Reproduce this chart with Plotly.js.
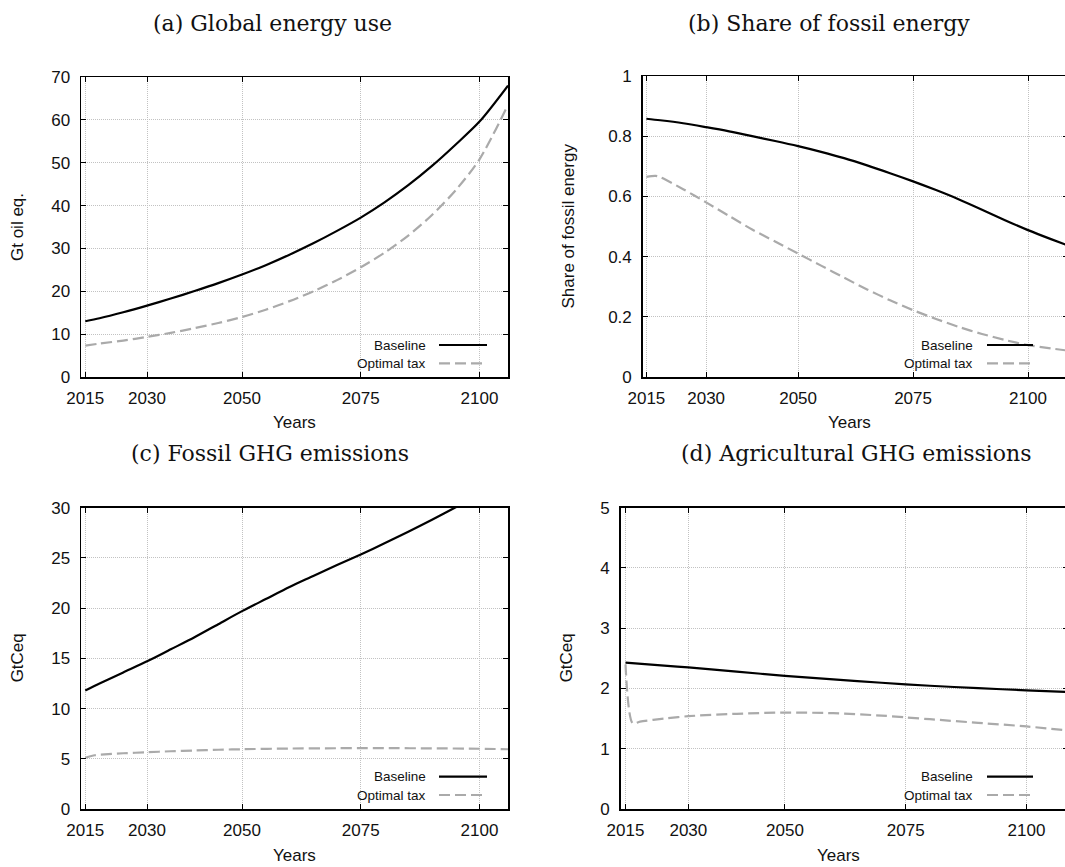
<!DOCTYPE html>
<html>
<head>
<meta charset="utf-8">
<script src="https://cdn.plot.ly/plotly-3.0.1.min.js"></script>
<style>
html, body { margin: 0; padding: 0; overflow: hidden; background: #fff; }
#chart { width: 1075px; height: 867px; }
</style>
</head>
<body>
<div id="chart"></div>
<script>
// ---------- data ----------
const panelTitles = ['(a) Global energy use', '(b) Share of fossil energy', '(c) Fossil GHG emissions', '(d) Agricultural GHG emissions'];
const yTitles = ['Gt oil eq.', 'Share of fossil energy', 'GtCeq', 'GtCeq'];
const xTitle = 'Years';
const seriesNames = ['Baseline', 'Optimal tax'];

const xTickPos = [2017, 2030, 2050, 2075, 2100];
const xTickLabels = ['2015', '2030', '2050', '2075', '2100'];

const yTicksA = [0, 10, 20, 30, 40, 50, 60, 70];
const yTicksB = [0, 0.2, 0.4, 0.6, 0.8, 1];
const yTickLabelsB = ['0', '0.2', '0.4', '0.6', '0.8', '1'];
const yTicksC = [0, 5, 10, 15, 20, 25, 30];
const yTicksD = [0, 1, 2, 3, 4, 5];

// (a) Global energy use
const yearsA = [2017, 2020, 2025, 2030, 2035, 2040, 2045, 2050, 2055, 2060, 2065, 2070, 2075, 2080, 2085, 2090, 2095, 2100, 2106];
const baseA  = [13.0, 13.7, 15.1, 16.65, 18.3, 20.05, 21.9, 23.9, 26.1, 28.55, 31.2, 34.1, 37.2, 40.75, 44.75, 49.25, 54.25, 59.6, 68.0];
const taxA   = [7.3, 7.8, 8.5, 9.35, 10.3, 11.4, 12.6, 14.0, 15.7, 17.7, 20.0, 22.6, 25.6, 29.0, 33.0, 37.8, 43.6, 50.8, 63.5];

// (b) Share of fossil energy
const yearsB = [2017, 2020, 2025, 2030, 2035, 2040, 2045, 2050, 2055, 2060, 2065, 2070, 2075, 2080, 2085, 2090, 2095, 2100, 2105, 2109];
const baseB  = [0.858, 0.853, 0.843, 0.830, 0.816, 0.800, 0.784, 0.767, 0.748, 0.727, 0.703, 0.677, 0.650, 0.621, 0.590, 0.556, 0.521, 0.488, 0.458, 0.435];
const yearsB2 = [2017, 2019, 2020, 2025, 2030, 2035, 2040, 2045, 2050, 2055, 2060, 2065, 2070, 2075, 2080, 2085, 2090, 2095, 2100, 2105, 2109];
const taxB   = [0.665, 0.668, 0.664, 0.624, 0.580, 0.535, 0.490, 0.450, 0.410, 0.370, 0.330, 0.291, 0.255, 0.222, 0.193, 0.166, 0.143, 0.123, 0.106, 0.095, 0.087];

// (c) Fossil GHG emissions
const yearsC = [2017, 2020, 2025, 2030, 2035, 2040, 2045, 2050, 2055, 2060, 2065, 2070, 2075, 2080, 2085, 2090, 2095, 2100, 2106];
const baseC  = [11.8, 12.5, 13.6, 14.7, 15.9, 17.1, 18.4, 19.7, 20.9, 22.1, 23.2, 24.3, 25.35, 26.45, 27.6, 28.8, 30.05, 31.35, 33.0];
const yearsC2 = [2017, 2019, 2020, 2025, 2030, 2035, 2040, 2045, 2050, 2060, 2070, 2075, 2080, 2090, 2100, 2106];
const taxC   = [5.1, 5.35, 5.4, 5.55, 5.65, 5.75, 5.83, 5.9, 5.95, 6.02, 6.05, 6.06, 6.06, 6.04, 6.0, 5.95];

// (d) Agricultural GHG emissions
const yearsD = [2017, 2025, 2030, 2040, 2050, 2060, 2070, 2080, 2090, 2100, 2109];
const baseD  = [2.43, 2.38, 2.35, 2.28, 2.21, 2.15, 2.095, 2.045, 2.005, 1.97, 1.94];
const yearsD2 = [2017, 2018.5, 2020, 2025, 2030, 2040, 2050, 2060, 2070, 2075, 2080, 2090, 2100, 2109];
const taxD   = [2.40, 1.42, 1.45, 1.50, 1.54, 1.58, 1.60, 1.59, 1.55, 1.52, 1.49, 1.43, 1.37, 1.30];

// ---------- layout helpers ----------
const W = 1075, H = 867;
const fx = p => p / W;
const fy = p => 1 - p / H;

const BLACK = '#000000';
const GRAY = '#aaaaaa';
const DASH = '11px,5px';
const SANS = 'Liberation Sans, Arial, sans-serif';
const SERIF = 'DejaVu Serif, serif';

const panels = [
  { xs: 'x',  ys: 'y',  xd: [81, 508],    yd: [77, 377],    xr: [2016.1, 2106.0], yr: [0, 70], yt: yTicksA, ytl: null,
    data: [[yearsA, baseA], [yearsA, taxA]], title: [272, 23], ytitle: 18, xtitle: 294,
    leg: { textR: 428, l0: 439, l1: 487, r1: 345, r2: 363.3 } },
  { xs: 'x2', ys: 'y2', xd: [642.7, 1068], yd: [76, 377],    xr: [2016.2, 2108.7], yr: [0, 1],  yt: yTicksB, ytl: yTickLabelsB,
    data: [[yearsB, baseB], [yearsB2, taxB]], title: [829, 23], ytitle: 568, xtitle: 849,
    leg: { textR: 975, l0: 987, l1: 1033, r1: 345, r2: 363.3 } },
  { xs: 'x3', ys: 'y3', xd: [81, 508],    yd: [507.7, 809], xr: [2016.1, 2106.0], yr: [0, 30], yt: yTicksC, ytl: null,
    data: [[yearsC, baseC], [yearsC2, taxC]], title: [270, 453], ytitle: 17, xtitle: 294,
    leg: { textR: 428, l0: 439, l1: 487, r1: 776.7, r2: 795 } },
  { xs: 'x4', ys: 'y4', xd: [620.7, 1068], yd: [507.7, 809], xr: [2016.0, 2108.6], yr: [0, 5],  yt: yTicksD, ytl: null,
    data: [[yearsD, baseD], [yearsD2, taxD]], title: [856, 453], ytitle: 566, xtitle: 838.5,
    leg: { textR: 975, l0: 987, l1: 1033, r1: 776.7, r2: 795 } }
];

const traces = [];
const layout = {
  width: W, height: H,
  margin: { l: 0, r: 0, t: 0, b: 0 },
  paper_bgcolor: '#ffffff', plot_bgcolor: '#ffffff',
  showlegend: false,
  annotations: [], shapes: []
};

panels.forEach((p, i) => {
  const n = i === 0 ? '' : String(i + 1);
  p.data.forEach((d, k) => {
    traces.push({
      x: d[0], y: d[1], type: 'scatter', mode: 'lines', name: seriesNames[k],
      xaxis: p.xs, yaxis: p.ys,
      line: { color: k === 0 ? BLACK : GRAY, width: 2.2, dash: k === 0 ? 'solid' : DASH, shape: 'spline', smoothing: 0.8 },
      hoverinfo: 'skip'
    });
  });
  const axCommon = {
    showline: true, linecolor: BLACK, linewidth: 1.5, mirror: 'ticks',
    ticks: 'inside', ticklen: 5, tickwidth: 1, tickcolor: BLACK,
    showgrid: true, gridcolor: '#c2c2c2', gridwidth: 1, griddash: '1px,1px',
    zeroline: false, fixedrange: true,
    tickfont: { family: SANS, size: 17, color: '#111' }
  };
  layout['xaxis' + n] = Object.assign({}, axCommon, {
    domain: [fx(p.xd[0]), fx(p.xd[1])], anchor: p.ys, range: p.xr,
    tickmode: 'array', tickvals: xTickPos, ticktext: xTickLabels, ticklabelstandoff: 5
  });
  layout['yaxis' + n] = Object.assign({}, axCommon, {
    domain: [fy(p.yd[1]), fy(p.yd[0])], anchor: p.xs, range: p.yr,
    tickmode: 'array', tickvals: p.yt, ticktext: p.ytl || p.yt.map(String), ticklabelstandoff: 6
  });
  layout.annotations.push({ xref: 'paper', yref: 'paper', x: fx(p.title[0]), y: fy(p.title[1]),
    xanchor: 'center', yanchor: 'middle', showarrow: false, text: panelTitles[i],
    font: { family: SERIF, size: 22, color: '#111' } });
  layout.annotations.push({ xref: 'paper', yref: 'paper', x: fx(p.ytitle), y: fy((p.yd[0] + p.yd[1]) / 2),
    xanchor: 'center', yanchor: 'middle', showarrow: false, textangle: -90, text: yTitles[i],
    font: { family: SANS, size: 17, color: '#111' } });
  layout.annotations.push({ xref: 'paper', yref: 'paper', x: fx(p.xtitle), y: fy(p.yd[1] + 46),
    xanchor: 'center', yanchor: 'middle', showarrow: false, text: xTitle,
    font: { family: SANS, size: 17, color: '#111' } });
  [[p.leg.r1, BLACK, 'solid'], [p.leg.r2, GRAY, DASH]].forEach((r, k) => {
    layout.annotations.push({ xref: 'paper', yref: 'paper', x: fx(p.leg.textR), y: fy(r[0]),
      xanchor: 'right', yanchor: 'middle', showarrow: false, text: seriesNames[k],
      font: { family: SANS, size: 13.5, color: '#111' } });
    layout.shapes.push({ type: 'line', xref: 'paper', yref: 'paper',
      x0: fx(p.leg.l0), x1: fx(p.leg.l1), y0: fy(r[0]), y1: fy(r[0]),
      line: { color: r[1], width: 2.2, dash: r[2] } });
  });
});

Plotly.newPlot('chart', traces, layout, { displayModeBar: false, staticPlot: true });
</script>
</body>
</html>
